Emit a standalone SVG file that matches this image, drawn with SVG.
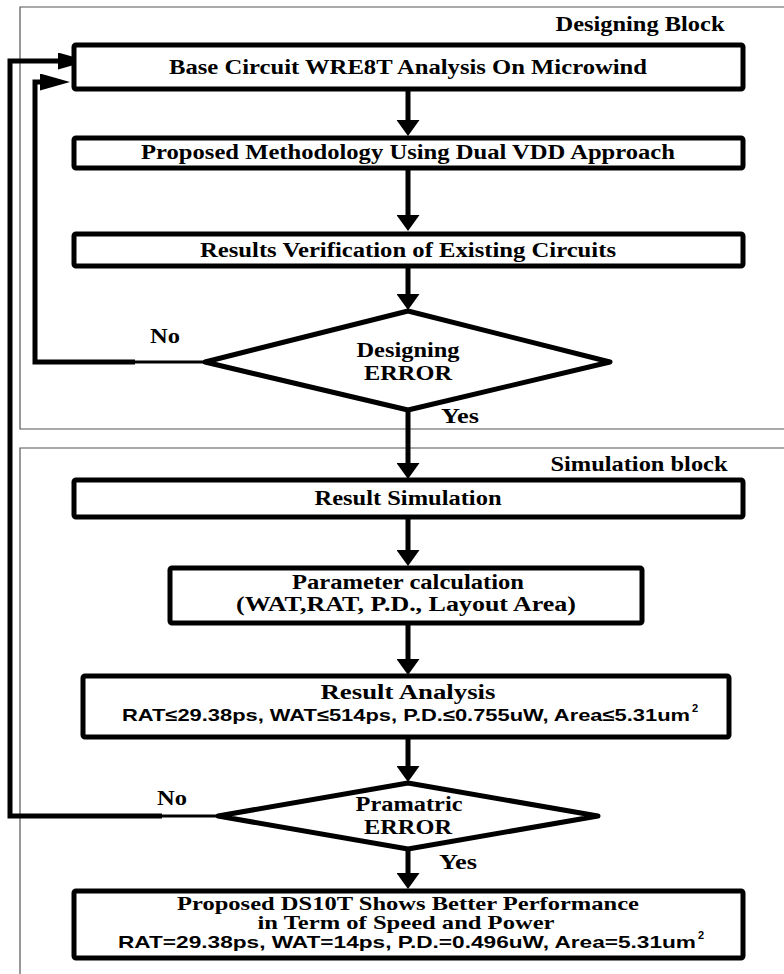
<svg xmlns="http://www.w3.org/2000/svg" width="784" height="974" viewBox="0 0 784 974">
<style>
.frame{fill:none;stroke:#555;stroke-width:1.2}
.box{fill:#fff;stroke:#000;stroke-width:5;stroke-linejoin:round}
.dia{fill:#fff;stroke:#000;stroke-width:5;stroke-linejoin:round}
.con{fill:none;stroke:#000;stroke-width:5;stroke-linejoin:miter}
.thin{fill:none;stroke:#000;stroke-width:3}
.t{font-family:"Liberation Serif","Times New Roman",serif;font-weight:bold;font-size:20px;fill:#000;text-anchor:middle}
.t2{font-family:"Liberation Serif","Times New Roman",serif;font-weight:bold;font-size:19px;fill:#000;text-anchor:middle}
.s{font-family:"Liberation Sans",Arial,sans-serif;font-weight:bold;font-size:17px;fill:#000}
.sup{font-family:"Liberation Sans",Arial,sans-serif;font-weight:bold;font-size:11px;fill:#000}
</style>
<defs>
<marker id="av" viewBox="0 0 16 23" markerWidth="16" markerHeight="23" refX="6" refY="11.5" markerUnits="userSpaceOnUse" orient="auto">
<path d="M0,0 L16,11.5 L0,23 z" fill="#000"/>
</marker>
<marker id="ah" viewBox="0 0 30 17" markerWidth="30" markerHeight="17" refX="20" refY="8.5" markerUnits="userSpaceOnUse" orient="auto">
<path d="M0,0 L30,8.5 L0,17 z" fill="#000"/>
</marker>
</defs>
<rect width="784" height="974" fill="#fff"/>
<g id="frames">
<path class="frame" d="M790,7 H20 V429 H790"/>
<path class="frame" d="M790,448 H20 V980"/>
<text class="t" x="640" y="31" textLength="169" lengthAdjust="spacingAndGlyphs">Designing Block</text>
<text class="t" x="639" y="471" textLength="177" lengthAdjust="spacingAndGlyphs">Simulation block</text>
</g>
<g id="connectors">
<line class="con" x1="408" y1="89" x2="408" y2="126" marker-end="url(#av)"/>
<line class="con" x1="408" y1="168" x2="408" y2="221" marker-end="url(#av)"/>
<line class="con" x1="408" y1="266" x2="408" y2="300" marker-end="url(#av)"/>
<line class="con" x1="408" y1="410" x2="408" y2="469" marker-end="url(#av)"/>
<line class="con" x1="408" y1="517" x2="408" y2="556" marker-end="url(#av)"/>
<line class="con" x1="408" y1="623" x2="408" y2="665" marker-end="url(#av)"/>
<line class="con" x1="408" y1="737" x2="408" y2="772" marker-end="url(#av)"/>
<line class="con" x1="408" y1="849" x2="408" y2="879" marker-end="url(#av)"/>
<line class="thin" x1="205" y1="362" x2="135" y2="362"/>
<polyline class="con" points="135,362 35,362 35,82 60,82" marker-end="url(#ah)"/>
<line class="thin" x1="218" y1="816" x2="162" y2="816"/>
<polyline class="con" points="162,816 10,816 10,61 78,61" marker-end="url(#ah)"/>
<text class="t" x="165" y="343" textLength="30" lengthAdjust="spacingAndGlyphs">No</text>
<text class="t" x="460" y="423" textLength="38" lengthAdjust="spacingAndGlyphs">Yes</text>
<text class="t" x="172" y="805" textLength="30" lengthAdjust="spacingAndGlyphs">No</text>
<text class="t" x="458" y="869" textLength="38" lengthAdjust="spacingAndGlyphs">Yes</text>
</g>
<g id="box1">
<rect class="box" x="74" y="45" width="669" height="44" rx="2"/>
<text class="t" x="408" y="74" textLength="478" lengthAdjust="spacingAndGlyphs">Base Circuit WRE8T Analysis On Microwind</text>
</g>
<g id="box2">
<rect class="box" x="74" y="138" width="669" height="30" rx="2"/>
<text class="t" x="408" y="159" textLength="534" lengthAdjust="spacingAndGlyphs">Proposed Methodology Using Dual VDD Approach</text>
</g>
<g id="box3">
<rect class="box" x="74" y="234" width="669" height="32" rx="2"/>
<text class="t" x="408" y="257" textLength="416" lengthAdjust="spacingAndGlyphs">Results Verification of Existing Circuits</text>
</g>
<g id="decision1">
<polygon class="dia" points="408,311 610,362 408,410 205,362"/>
<text class="t" x="408" y="357" textLength="103" lengthAdjust="spacingAndGlyphs">Designing</text>
<text class="t" x="408" y="380" textLength="88" lengthAdjust="spacingAndGlyphs">ERROR</text>
</g>
<g id="box4">
<rect class="box" x="74" y="480" width="669" height="37" rx="2"/>
<text class="t" x="408" y="505" textLength="187" lengthAdjust="spacingAndGlyphs">Result Simulation</text>
</g>
<g id="box5">
<rect class="box" x="170" y="568" width="472" height="55" rx="2"/>
<text class="t" x="408" y="589" textLength="232" lengthAdjust="spacingAndGlyphs">Parameter calculation</text>
<text class="t" x="406" y="611" textLength="340" lengthAdjust="spacingAndGlyphs">(WAT,RAT, P.D., Layout Area)</text>
</g>
<g id="box6">
<rect class="box" x="83" y="676" width="646" height="61" rx="2"/>
<text class="t" x="408" y="699" textLength="175" lengthAdjust="spacingAndGlyphs">Result Analysis</text>
<text class="s" x="122" y="721" textLength="568" lengthAdjust="spacingAndGlyphs">RAT≤29.38ps, WAT≤514ps, P.D.≤0.755uW, Area≤5.31um</text>
<text class="sup" x="692" y="712">2</text>
</g>
<g id="decision2">
<polygon class="dia" points="408,783 598,816 408,849 218,816"/>
<text class="t" x="409" y="811" textLength="107" lengthAdjust="spacingAndGlyphs">Pramatric</text>
<text class="t" x="408" y="834" textLength="88" lengthAdjust="spacingAndGlyphs">ERROR</text>
</g>
<g id="box7">
<rect class="box" x="74" y="891" width="669" height="67" rx="2"/>
<text class="t2" x="408" y="910" textLength="462" lengthAdjust="spacingAndGlyphs">Proposed DS10T Shows Better Performance</text>
<text class="t2" x="406" y="929" textLength="297" lengthAdjust="spacingAndGlyphs">in Term of Speed and Power</text>
<text class="s" x="118" y="948" textLength="578" lengthAdjust="spacingAndGlyphs">RAT=29.38ps, WAT=14ps, P.D.=0.496uW, Area=5.31um</text>
<text class="sup" x="698" y="939">2</text>
</g>
</svg>
